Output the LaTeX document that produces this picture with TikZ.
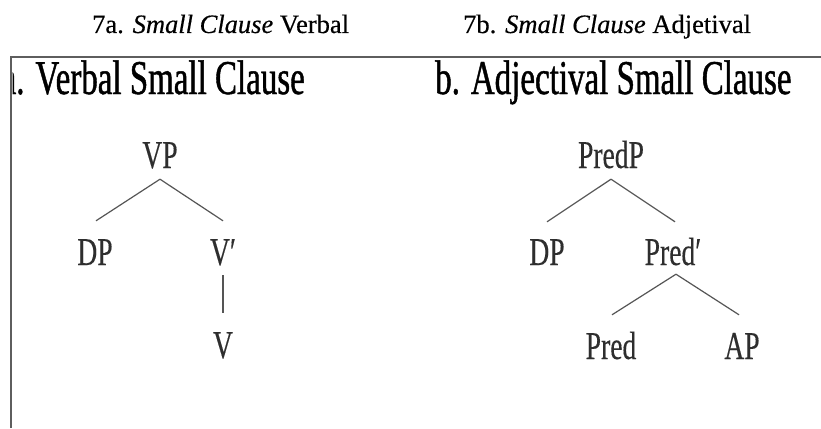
\documentclass[tikz,border=0pt]{standalone}
\usepackage{fontspec}
\setmainfont{Liberation Serif}
\newfontfamily\capfont[FakeBold=0.4]{Liberation Serif}
\newfontfamily\headfont[FakeStretch=0.68,FakeBold=0.9]{Liberation Serif}
\newfontfamily\treefont[FakeStretch=0.70,FakeBold=0.3]{Liberation Serif}
\definecolor{framegray}{HTML}{5E5E5E}
\definecolor{linegray}{HTML}{555555}
\definecolor{treetext}{HTML}{2E2E2E}
\tikzset{
  caption/.style={anchor=base west, inner sep=0pt,
    font=\capfont\fontsize{26.5}{30}\selectfont, text=black},
  heading/.style={anchor=base west, inner sep=0pt,
    font=\headfont\fontsize{48.5}{52}\selectfont, text=black},
  cat/.style={anchor=base, inner sep=0pt, text height=26pt, text depth=0pt,
    font=\treefont\fontsize{39.4}{42}\selectfont, text=treetext},
  branch/.style={draw=linegray, line width=1.2pt},
  frameline/.style={draw=framegray, line width=1.8pt}
}
\begin{document}
\begin{tikzpicture}[x=1pt,y=-1pt]
\useasboundingbox[fill=white] (0,0) rectangle (821,428);

% captions above the frame
\node[caption] (capA) at (92,33) {7a. \textit{Small Clause} Verbal};
\node[caption] (capB) at (463,33) {7b. \textit{Small Clause} Adjetival};

% frame: top rule and left rule
\draw[frameline] (11,428) -- (11,57) -- (821,57);

% headings inside the frame (the first one is cut by the left rule)
\begin{scope}
  \clip (12.5,58) rectangle (821,428);
  \node[heading, anchor=base east] (headA) at (305,94) {a. Verbal Small Clause};
\end{scope}
\node[heading] (headB) at (435,94) {b. Adjectival Small Clause};

% tree a: verbal small clause
\node[cat] (VP) at (160,168) {VP};
\node[cat] (DPa) at (95,265) {DP};
\node[cat] (Vbar) at (223,265) {V′};
\node[cat] (V) at (223,358) {V};
\draw[branch] ([yshift=-11pt]VP.south) -- ([yshift=18pt,xshift=1pt]DPa.north);
\draw[branch] ([yshift=-11pt]VP.south) -- ([yshift=18pt]Vbar.north);
\draw[branch] ([yshift=-10pt]Vbar.south) -- ([yshift=19pt]V.north);

% tree b: adjectival small clause
\node[cat] (PredP) at (611,168) {PredP};
\node[cat] (DPb) at (547,265) {DP};
\node[cat] (Predbar) at (673,265) {Pred′};
\node[cat] (Pred) at (611,359) {Pred};
\node[cat] (AP) at (742,359) {AP};
\draw[branch] ([yshift=-11pt]PredP.south) -- ([yshift=17pt]DPb.north);
\draw[branch] ([yshift=-11pt]PredP.south) -- ([yshift=17pt,xshift=2pt]Predbar.north);
\draw[branch] ([yshift=-9pt,xshift=3pt]Predbar.south) -- ([yshift=18pt,xshift=1pt]Pred.north);
\draw[branch] ([yshift=-9pt,xshift=3pt]Predbar.south) -- ([yshift=18pt,xshift=-3pt]AP.north);
\end{tikzpicture}
\end{document}
